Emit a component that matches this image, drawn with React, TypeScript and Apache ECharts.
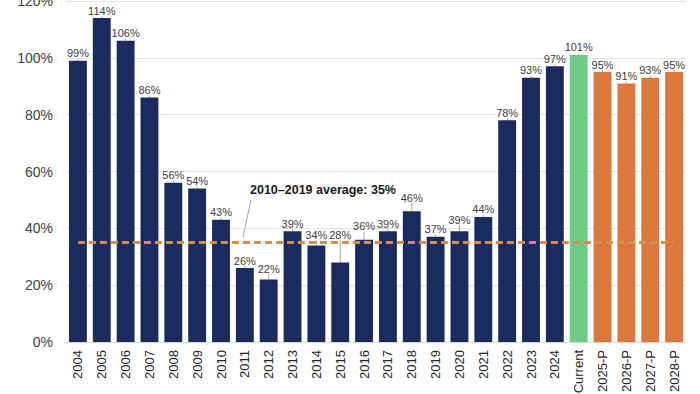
import React, { useEffect, useRef } from "react";
import * as echarts from "echarts";

const categories = ["2004","2005","2006","2007","2008","2009","2010","2011","2012","2013","2014","2015","2016","2017","2018","2019","2020","2021","2022","2023","2024","Current","2025-P","2026-P","2027-P","2028-P"];
const values = [99,114,106,86,56,54,43,26,22,39,34,28,36,39,46,37,39,44,78,93,97,101,95,91,93,95];
const kinds = ["h","h","h","h","h","h","h","h","h","h","h","h","h","h","h","h","h","h","h","h","h","c","p","p","p","p"];
const averageValue = 35;
const averageLabel = "2010–2019 average: 35%";
const yTicks = [0, 20, 40, 60, 80, 100, 120];

const NAVY = "#1c2b5e";
const GREEN = "#6fcb87";
const ORANGE = "#db783e";
const LINE_ORANGE = "#d98c4c";

const labelShift: Record<number, number> = { 11: -20, 12: -6, 14: -6, 16: -4, 10: -3, 8: -3 };

export default function App() {
  const ref = useRef<HTMLDivElement>(null);
  useEffect(() => {
    if (!ref.current) return;
    const chart = echarts.init(ref.current, undefined, { renderer: "svg" });
    const colorFor = (k: string) => (k === "c" ? GREEN : k === "p" ? ORANGE : NAVY);
    chart.setOption({
      animation: false,
      grid: { left: 66, right: 14, top: 1, bottom: 52, containLabel: false, outerBoundsMode: "none" },
      xAxis: {
        type: "category",
        data: categories,
        axisLine: { show: true, lineStyle: { color: "#d9d9d9", width: 1 } },
        axisTick: { show: false },
        axisLabel: {
          rotate: 90,
          interval: 0,
          color: "#262626",
          fontSize: 13,
          fontFamily: "Liberation Sans, Arial, sans-serif",
          margin: 8,
        },
      },
      yAxis: {
        type: "value",
        min: 0,
        max: 120,
        interval: 20,
        axisLine: { show: false },
        axisTick: { show: false },
        splitLine: { lineStyle: { color: "#e3e3e3", width: 1 } },
        axisLabel: {
          color: "#404040",
          fontSize: 14,
          fontFamily: "Liberation Sans, Arial, sans-serif",
          margin: 13,
          formatter: (v: number) => (yTicks.includes(v) ? v + "%" : ""),
        },
      },
      series: [
        {
          type: "bar",
          barWidth: "75%",
          data: values.map((v, i) => ({
            value: v,
            itemStyle: { color: colorFor(kinds[i]) },
          })),
          label: {
            show: true,
            position: "top",
            distance: 2,
            color: "#404040",
            fontSize: 11,
            fontFamily: "Liberation Sans, Arial, sans-serif",
            formatter: (p: any) => p.value + "%",
          },
          labelLine: { show: true, lineStyle: { color: "#a6a6a6", width: 1 } },
          labelLayout: (p: any) => {
            const d = labelShift[p.dataIndex];
            return d ? { dy: d } : {};
          },
          markLine: {
            silent: true,
            symbol: ["none", "none"],
            label: { show: false },
            lineStyle: { color: LINE_ORANGE, type: [7, 4], width: 3, opacity: 1 },
            data: [
              [
                { xAxis: categories[0], yAxis: averageValue },
                { xAxis: categories[categories.length - 1], yAxis: averageValue },
              ],
            ],
          },
          z: 2,
        },
      ],
      graphic: [
        {
          type: "text",
          left: 250,
          top: 183,
          style: {
            text: averageLabel,
            font: "bold 12.5px Liberation Sans, Arial, sans-serif",
            fill: "#1a1a1a",
          },
        },
        {
          type: "line",
          shape: { x1: 251, y1: 200, x2: 243, y2: 237 },
          style: { stroke: "#a6a6a6", lineWidth: 1 },
        },
      ],
    });
    return () => chart.dispose();
  }, []);
  return <div ref={ref} style={{ width: 700, height: 394, position: "absolute", left: 0, top: 0, background: "#fff" }} />;
}
